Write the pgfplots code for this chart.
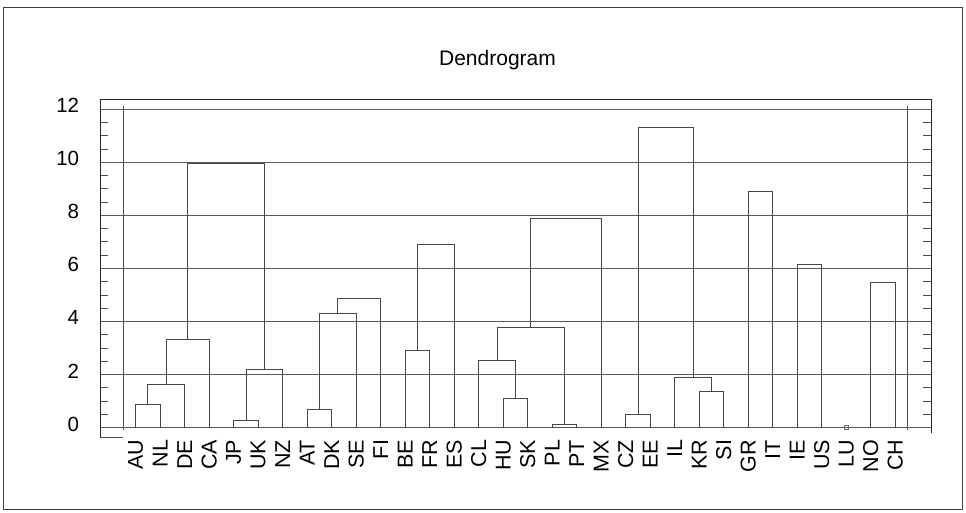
\documentclass[border=0pt]{standalone}
\usepackage{pgfplots}
\pgfplotsset{compat=1.18}
\usepackage{fontspec}
\setmainfont{Liberation Sans}
\begin{document}
\begin{tikzpicture}[x=1pt,y=1pt]
\path (0,0) rectangle (966,-513);
\draw[black!75, line width=1pt] (3.5,-8) rectangle (962.5,-509.5);
\node[anchor=base, font=\fontsize{21}{21}\selectfont] at (497.5,-65.5) {Dendrogram};
\begin{axis}[
  at={(100pt,-437pt)}, anchor=south west,
  scale only axis, width=831pt, height=337.7pt,
  xmin=-1.457, xmax=32.46, ymin=-0.35, ymax=12.369,
  clip=false,
  axis line style={draw=none},
  xtick={0,...,31},
  xticklabels={AU,NL,DE,CA,JP,UK,NZ,AT,DK,SE,FI,BE,FR,ES,CL,HU,SK,PL,PT,MX,CZ,EE,IL,KR,SI,GR,IT,IE,US,LU,NO,CH},
  xtick style={draw=none},
  xticklabel style={font=\fontsize{21.5}{21.5}\selectfont, rotate=90, anchor=east, inner sep=0pt, xshift=2pt},
  xticklabel shift=4.7pt,
  ytick={0,2,...,12},
  minor y tick num=3,
  ymajorgrids,
  major grid style={black!65, line width=0.9pt},
  major tick length=0pt,
  minor tick length=8pt,
  tick align=inside,
  minor tick style={black!70, line width=0.8pt},
  yticklabel style={font=\fontsize{20.5}{20.5}\selectfont, anchor=east, inner sep=0pt, yshift=3.7pt},
  yticklabel shift=20.7pt,
  /pgf/number format/assume math mode=true,
  dend/.style={black!72, line width=0.9pt, no marks},
]
\addplot[dend] coordinates {(0,0)(0,0.89)(1,0.89)(1,0)};
\addplot[dend] coordinates {(0.5,0.89)(0.5,1.62)(2,1.62)(2,0)};
\addplot[dend] coordinates {(1.25,1.62)(1.25,3.33)(3,3.33)(3,0)};
\addplot[dend] coordinates {(4,0)(4,0.29)(5,0.29)(5,0)};
\addplot[dend] coordinates {(4.5,0.29)(4.5,2.20)(6,2.20)(6,0)};
\addplot[dend] coordinates {(2.125,3.33)(2.125,9.97)(5.25,9.97)(5.25,2.20)};
\addplot[dend] coordinates {(7,0)(7,0.70)(8,0.70)(8,0)};
\addplot[dend] coordinates {(7.5,0.70)(7.5,4.31)(9,4.31)(9,0)};
\addplot[dend] coordinates {(8.25,4.31)(8.25,4.86)(10,4.86)(10,0)};
\addplot[dend] coordinates {(11,0)(11,2.91)(12,2.91)(12,0)};
\addplot[dend] coordinates {(11.5,2.91)(11.5,6.91)(13,6.91)(13,0)};
\addplot[dend] coordinates {(15,0)(15,1.09)(16,1.09)(16,0)};
\addplot[dend] coordinates {(14,0)(14,2.54)(15.5,2.54)(15.5,1.09)};
\addplot[dend] coordinates {(17,0)(17,0.14)(18,0.14)(18,0)};
\addplot[dend] coordinates {(14.75,2.54)(14.75,3.78)(17.5,3.78)(17.5,0.14)};
\addplot[dend] coordinates {(16.125,3.78)(16.125,7.89)(19,7.89)(19,0)};
\addplot[dend] coordinates {(20,0)(20,0.49)(21,0.49)(21,0)};
\addplot[dend] coordinates {(23,0)(23,1.36)(24,1.36)(24,0)};
\addplot[dend] coordinates {(22,0)(22,1.90)(23.5,1.90)(23.5,1.36)};
\addplot[dend] coordinates {(20.5,0.49)(20.5,11.29)(22.75,11.29)(22.75,1.90)};
\addplot[dend] coordinates {(25,0)(25,8.88)(26,8.88)(26,0)};
\addplot[dend] coordinates {(27,0)(27,6.15)(28,6.15)(28,0)};
\addplot[dend] coordinates {(30,0)(30,5.46)(31,5.46)(31,0)};
\addplot[only marks, mark=square, mark size=2pt, mark options={black!60, line width=0.9pt}] coordinates {(29,0)};
% frame
\draw[black!85, line width=0.9pt] (axis cs:-1.457,-0.35) -- (axis cs:-1.457,12.369) -- (axis cs:32.46,12.369) -- (axis cs:32.46,-0.21);
\draw[black!70, line width=0.9pt] (axis cs:-1.457,-0.35) -- (axis cs:-0.5,-0.35);
\draw[black!70, line width=0.9pt] (axis cs:-0.5,12.13) -- (axis cs:-0.5,-0.1);
\draw[black!70, line width=0.9pt] (axis cs:31.5,12.13) -- (axis cs:31.5,-0.1);
\end{axis}
\end{tikzpicture}
\end{document}
